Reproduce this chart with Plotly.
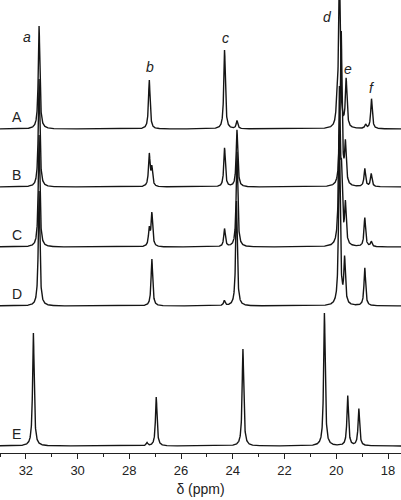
import numpy as np
import plotly.graph_objects as go

# stacked 13C spectra, chemical shift in ppm
labels = ["A", "B", "C", "D", "E"]
offsets = [324, 266, 206, 147, 7]   # baseline of each trace (stacking)

# peak lists per trace: shift (ppm) and height
A_ppm = [31.49, 27.23, 24.32, 23.84, 19.97, 19.88, 19.62, 18.87, 18.64]
A_hgt = [103, 49, 79, 8, 22, 160, 48, 4, 30]

B_ppm = [31.49, 27.23, 27.13, 24.32, 23.84, 19.88, 19.81, 19.65, 18.90, 18.65]
B_hgt = [108, 32, 18, 39, 57, 20, 150, 40, 18, 13]

C_ppm = [31.49, 27.23, 27.13, 24.32, 23.84, 19.88, 19.80, 19.65, 18.90, 18.65]
C_hgt = [112, 17, 33, 18, 95, 150, 60, 40, 29, 5]

D_ppm = [31.49, 27.13, 24.33, 23.86, 19.88, 19.68, 18.90]
D_hgt = [115, 47, 5, 105, 170, 45, 38]

E_ppm = [31.71, 27.32, 26.96, 23.61, 20.46, 19.56, 19.13]
E_hgt = [113, 3, 49, 97, 133, 50, 37]

peak_ppm = [A_ppm, B_ppm, C_ppm, D_ppm, E_ppm]
peak_hgt = [A_hgt, B_hgt, C_hgt, D_hgt, E_hgt]

# peak assignments
assign = ["a", "b", "c", "d", "e", "f"]
assign_ppm = [31.96, 27.20, 24.29, 20.36, 19.56, 18.62]
assign_y = [416, 386, 415, 436, 384, 365]

hwhm = 0.036
x = np.linspace(33.2, 17.3, 4000)

fig = go.Figure()
for name, off, ppm, hgt in zip(labels, offsets, peak_ppm, peak_hgt):
    y = np.full_like(x, float(off))
    for p, h in zip(ppm, hgt):
        y += h / (1 + ((x - p) / hwhm) ** 2)
    fig.add_trace(go.Scatter(x=x, y=y, mode="lines", name=name,
                             line=dict(color="#151515", width=1.4),
                             showlegend=False, hoverinfo="skip"))

# trace letters on the left
for name, off in zip(labels, offsets):
    fig.add_annotation(x=0.025, xref="paper", y=off + 12, yref="y", text=name,
                       showarrow=False, font=dict(size=14, color="#222"))

for t, px, py in zip(assign, assign_ppm, assign_y):
    fig.add_annotation(x=px, y=py, text="<i>%s</i>" % t, showarrow=False,
                       font=dict(size=14, color="#222"))

fig.update_layout(
    width=401, height=500,
    margin=dict(l=0, r=0, t=0, b=47),
    plot_bgcolor="white", paper_bgcolor="white",
    font=dict(family="Liberation Sans, Arial, sans-serif", color="#222"),
)
fig.update_xaxes(range=[33, 17.5], showgrid=False, zeroline=False,
                 showline=True, linecolor="#222", linewidth=1,
                 ticks="outside", ticklen=5, tickwidth=1, tickcolor="#222",
                 dtick=2, tick0=18, tickfont=dict(size=13),
                 minor=dict(ticks="outside", ticklen=3, dtick=1, tick0=18,
                            tickcolor="#222"),
                 title=dict(text="δ (ppm)", font=dict(size=14), standoff=7))
fig.update_yaxes(range=[0, 453], visible=False)

# drop the browser's default body margin so the figure sits at the corner
fig.write_html("out.html", config={"displayModeBar": False},
               post_script="document.body.style.margin='0';")
